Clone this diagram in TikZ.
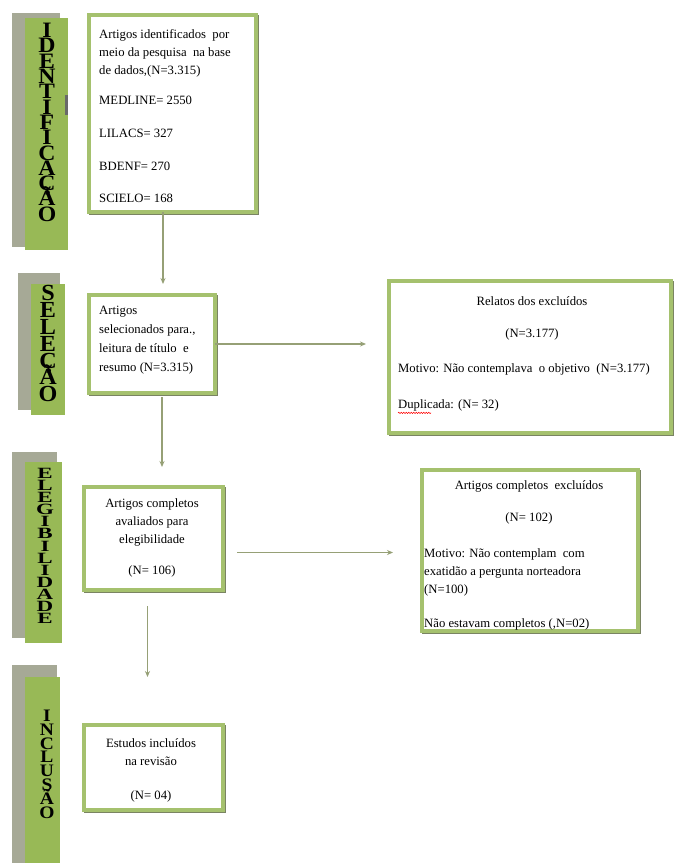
\documentclass[tikz,border=0pt]{standalone}
\usepackage{fontspec}
\setmainfont{Liberation Serif}
\usetikzlibrary{arrows.meta,decorations.pathmorphing,calc}
\definecolor{barGreen}{RGB}{152,185,86}
\definecolor{barGrey}{RGB}{166,169,150}
\definecolor{boxGreen}{RGB}{165,193,110}
\definecolor{boxShadow}{RGB}{122,132,98}
\definecolor{arrowCol}{RGB}{150,160,118}
\definecolor{markGrey}{RGB}{105,105,105}
\newcommand\mytightlines{\lineskiplimit=-100pt\relax\lineskip=0pt\relax}
\begin{document}
\begin{tikzpicture}[x=1pt,y=-1pt,
  box/.style={draw=boxGreen, line width=3.5pt, fill=white, anchor=north west, inner sep=0pt, outer sep=0pt,
    preaction={draw=boxShadow, line width=3.5pt, transform canvas={shift={(1.5pt,-1.5pt)}}}},
  txt/.style={font=\fontsize{12.7}{18}\selectfont, inner sep=0pt},
  bartext/.style={align=center, inner sep=0pt, anchor=north},
  arr/.style={draw=arrowCol, line width=1.1pt, -{Stealth[length=6pt,width=5pt]}}
]
\useasboundingbox (0,0) rectangle (675,863);
\fill[white] (0,0) rectangle (675,863);

% ---- side bars ----
\fill[barGrey] (12,13) rectangle (60,247);
\fill[barGreen] (25,18) rectangle (68,250);
\fill[markGrey] (65,95) rectangle (68,115);

\fill[barGrey] (18,273) rectangle (60,410);
\fill[barGreen] (31,284) rectangle (65,415);

\fill[barGrey] (12,452) rectangle (57,638);
\fill[barGreen] (25,462) rectangle (62,643);

\fill[barGrey] (12,665) rectangle (57,863);
\fill[barGreen] (25,677) rectangle (60,863);

\begin{scope}[shift={(47,23)}, xscale=1.08, transform shape]
\node[bartext, font=\fontsize{22}{15.3}\bfseries\selectfont\mytightlines] (Lident) at (0,0) {I\\D\\E\\N\\T\\I\\F\\I\\C\\A\\Ç\\Ã\\O};
\end{scope}
\begin{scope}[shift={(48,285)}, xscale=1.05, transform shape]
\node[bartext, font=\fontsize{23}{16.9}\bfseries\selectfont\mytightlines] (Lsel) at (0,0) {S\\E\\L\\E\\Ç\\Ã\\O};
\end{scope}
\begin{scope}[shift={(45,468)}, yscale=0.68, transform shape]
\node[bartext, font=\fontsize{23}{17.8}\bfseries\selectfont\mytightlines] (Leleg) at (0,0) {E\\L\\E\\G\\I\\B\\I\\L\\I\\D\\A\\D\\E};
\end{scope}
\begin{scope}[shift={(47,710)}, yscale=0.9, transform shape]
\node[bartext, font=\fontsize{19.5}{15.3}\bfseries\selectfont\mytightlines] (Lincl) at (0,0) {I\\N\\C\\L\\U\\S\\Ã\\O};
\end{scope}

% ---- boxes ----
\node[box, minimum width=167pt, minimum height=197pt] (b1) at (89,15) {};
\node[box, minimum width=126pt, minimum height=98pt] (b2) at (89,295) {};
\node[box, minimum width=139pt, minimum height=103pt] (b3) at (84,487) {};
\node[box, minimum width=139pt, minimum height=85pt] (b4) at (84,725) {};
\node[box, minimum width=282pt, minimum height=152pt] (b5) at (389,281) {};
\node[box, minimum width=216pt, minimum height=161pt] (b6) at (422,470) {};

% ---- texts ----
\node[txt, anchor=north west, align=left] (t1) at (99,29) {Artigos identificados\ \ por\\meio da pesquisa\ \ na base\\de dados,(N=3.315)\\[12pt]MEDLINE= 2550\\[15pt]LILACS= 327\\[15pt]BDENF= 270\\[14pt]SCIELO= 168};
\node[txt, anchor=north west, align=left, font=\fontsize{12.7}{18.8}\selectfont] (t2) at (99,306) {Artigos\\selecionados para.,\\leitura de título\ \ e\\resumo (N=3.315)};
\node[txt, anchor=north, align=center] (t3) at (152,498) {Artigos completos\\avaliados para\\elegibilidade\\[13pt](N= 106)};
\node[txt, anchor=north, align=center] (t4) at (151,738) {Estudos incluídos\\na revisão\\[16pt](N= 04)};
\node[txt, anchor=north, align=center] (t5a) at (532,296) {Relatos dos excluídos\\[14pt](N=3.177)};
\node[txt, anchor=north west, align=left] (t5b) at (398,363) {Motivo: Não contemplava\ \ o objetivo\ \ (N=3.177)\\[18pt]Duplicada: (N= 32)};
\node[txt, anchor=north, align=center] (t6a) at (529,480) {Artigos completos\ \ excluídos\\[14pt](N= 102)};
\node[txt, anchor=north west, align=left] (t6b) at (424,548) {Motivo: Não contemplam\ \ com\\exatidão a pergunta norteadora\\(N=100)\\[16pt]Não estavam completos (,N=02)};

% spell-check squiggle
\draw[red, line width=0.5pt, decorate, decoration={snake, amplitude=0.7pt, segment length=2.5pt}]
  ($(t5b.south west)+(0,2)$) -- ++(33,0);

% ---- connectors ----
\coordinate (e1) at (163,284);
\draw[arr] (b1.south -| e1) -- (e1);
\coordinate (e2) at (366,344);
\draw[arr] (b2.east |- e2) -- (e2);
\coordinate (e3) at (162,467);
\draw[arr] ($(b2.south -| e3)+(0,4)$) -- (e3);
\path (b3.east) ++(14,14) coordinate (s4);
\path (s4) ++(156,0) coordinate (e4);
\draw[arr] (s4) -- (e4);
\path (b3.south) ++(-6,16) coordinate (s5);
\path (s5) ++(0,71) coordinate (e5);
\draw[arr] (s5) -- (e5);
\end{tikzpicture}
\end{document}
